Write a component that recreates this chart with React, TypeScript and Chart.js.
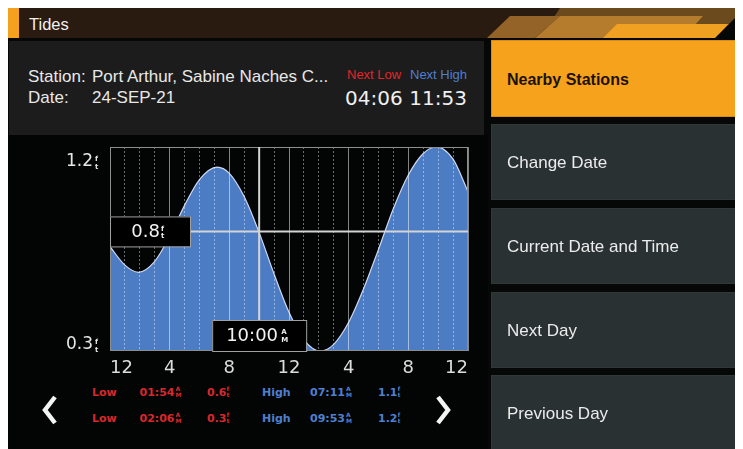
import React, { useEffect, useRef } from 'react';
import { Chart, registerables } from 'chart.js';

Chart.register(...registerables);

// ---- chart data ----
const tideHours = [0, 1, 1.9, 3, 4, 5, 6, 7.18, 8, 9, 10, 11, 12, 13, 14.1, 15, 16, 17, 18, 19, 20, 21, 21.88, 23, 24];
const tideLevels = [0.736, 0.659, 0.629, 0.675, 0.779, 0.909, 1.017, 1.069, 1.043, 0.945, 0.795, 0.622, 0.462, 0.347, 0.3, 0.328, 0.42, 0.56, 0.725, 0.896, 1.036, 1.126, 1.153, 1.102, 0.966];
const xTickLabels = ['12', '4', '8', '12', '4', '8', '12'];
const yTickLabels = ['1.2', '0.3'];
const yMin = 0.3;
const yMax = 1.153;
const cursorHour = 10;
const cursorLevel = 0.8;
const cursorTimeLabel = '10:00';
const cursorLevelLabel = '0.8';

// ---- table / UI text ----
const lowTimes = ['01:54', '02:06'];
const lowLevels = ['0.6', '0.3'];
const highTimes = ['07:11', '09:53'];
const highLevels = ['1.1', '1.2'];
const menuItems = ['Nearby Stations', 'Change Date', 'Current Date and Time', 'Next Day', 'Previous Day'];
const stationName = 'Port Arthur, Sabine Naches C...';
const dateText = '24-SEP-21';
const nextLowTime = '04:06';
const nextHighTime = '11:53';

const NUM = '"DejaVu Sans", sans-serif';
const UI = '"Liberation Sans", Arial, sans-serif';
const RED = '#e0262c';
const BLUE = '#4f7fcf';

function drawStack(ctx: CanvasRenderingContext2D, top: string, bottom: string, x: number, cy: number, size: number, clipW: number, color: string) {
  ctx.save();
  ctx.beginPath();
  ctx.rect(x, cy - size * 1.3, clipW, size * 2.6);
  ctx.clip();
  ctx.fillStyle = color;
  ctx.font = `bold ${size}px "DejaVu Sans"`;
  ctx.textAlign = 'left';
  ctx.textBaseline = 'middle';
  ctx.fillText(top, x, cy - size * 0.52);
  ctx.fillText(bottom, x, cy + size * 0.58);
  ctx.restore();
}

const overlayPlugin = {
  id: 'tideOverlay',
  afterDraw(chart: any) {
    const { ctx, chartArea: a, scales } = chart;
    const xs = scales.x;
    const ys = scales.y;
    ctx.save();
    // plot frame
    ctx.strokeStyle = '#8e8e8e';
    ctx.lineWidth = 1;
    ctx.strokeRect(a.left + 0.5, a.top + 0.5, a.right - a.left - 1, a.bottom - a.top - 1);

    // y labels
    ctx.fillStyle = '#e6e6e6';
    ctx.font = '17px "DejaVu Sans"';
    ctx.textAlign = 'right';
    ctx.textBaseline = 'middle';
    const yPos = [ys.getPixelForValue(ys.max) + 15, ys.getPixelForValue(ys.min) - 6];
    yTickLabels.forEach((t, i) => {
      ctx.fillStyle = '#e6e6e6';
      ctx.font = '17px "DejaVu Sans"';
      ctx.textAlign = 'right';
      ctx.textBaseline = 'middle';
      ctx.fillText(t, a.left - 17, yPos[i]);
      drawStack(ctx, 'f', 't', a.left - 15, yPos[i] + 1, 7, 6, '#e6e6e6');
    });

    // crosshair
    const cx = xs.getPixelForValue(cursorHour);
    const cy = ys.getPixelForValue(cursorLevel);
    ctx.strokeStyle = '#d4d4d4';
    ctx.lineWidth = 2;
    ctx.beginPath();
    ctx.moveTo(a.left, cy);
    ctx.lineTo(a.right, cy);
    ctx.stroke();
    ctx.beginPath();
    ctx.moveTo(cx, a.top);
    ctx.lineTo(cx, a.bottom);
    ctx.stroke();

    // level box
    ctx.fillStyle = '#000';
    ctx.fillRect(a.left, cy - 15, 80, 30);
    ctx.strokeStyle = '#a0a0a0';
    ctx.lineWidth = 1;
    ctx.strokeRect(a.left + 0.5, cy - 14.5, 80, 30);
    ctx.fillStyle = '#f2f2f2';
    ctx.font = '18px "DejaVu Sans"';
    ctx.textAlign = 'right';
    ctx.textBaseline = 'middle';
    ctx.fillText(cursorLevelLabel, a.left + 50, cy + 1);
    drawStack(ctx, 'f', 't', a.left + 51, cy + 1, 7, 4, '#f2f2f2');

    // time box
    const bl = cx - 47;
    const bt = a.bottom - 31;
    ctx.fillStyle = '#000';
    ctx.fillRect(bl, bt, 94, 31);
    ctx.strokeStyle = '#a0a0a0';
    ctx.strokeRect(bl + 0.5, bt + 0.5, 94, 31);
    ctx.fillStyle = '#f2f2f2';
    ctx.font = '18px "DejaVu Sans"';
    ctx.textAlign = 'left';
    ctx.textBaseline = 'middle';
    ctx.fillText(cursorTimeLabel, bl + 14, bt + 16);
    drawStack(ctx, 'A', 'M', bl + 69, bt + 16, 7, 10, '#f2f2f2');
    ctx.restore();
  },
};

function TideChart() {
  const ref = useRef<HTMLCanvasElement | null>(null);
  useEffect(() => {
    if (!ref.current) return;
    const chart = new Chart(ref.current, {
      type: 'line',
      data: {
        datasets: [
          {
            data: tideHours.map((h, i) => ({ x: h, y: tideLevels[i] })),
            fill: 'start',
            backgroundColor: '#4b7cc4',
            borderColor: '#cfd8f0',
            borderWidth: 1.2,
            pointRadius: 0,
            cubicInterpolationMode: 'monotone',
          },
        ],
      },
      options: {
        animation: false,
        responsive: false,
        maintainAspectRatio: false,
        events: [],
        layout: { padding: { left: 60, top: 9, right: 12, bottom: 0 } },
        plugins: { legend: { display: false }, tooltip: { enabled: false } },
        scales: {
          x: {
            type: 'linear',
            min: 0,
            max: 24,
            afterFit: (s: any) => {
              s.height = 34;
            },
            ticks: {
              stepSize: 1,
              maxTicksLimit: 25,
              autoSkip: false,
              maxRotation: 0,
              align: 'inner',
              padding: 7,
              color: '#dcdcdc',
              font: { family: 'DejaVu Sans', size: 18 },
              callback: (v: any) => (Number(v) % 4 === 0 ? xTickLabels[Number(v) / 4] : ''),
            },
            grid: {
              z: 1,
              drawTicks: false,
              lineWidth: 1,
              color: (c: any) =>
                c.tick && c.tick.value % 4 === 0 ? 'rgba(255,255,255,0.5)' : 'rgba(255,255,255,0.42)',
            },
            border: {
              display: false,
              dash: (c: any) => (c.tick && c.tick.value % 4 === 0 ? [] : [2, 2]),
            },
          },
          y: { display: false, min: yMin, max: yMax },
        },
      } as any,
      plugins: [overlayPlugin],
    });
    return () => chart.destroy();
  }, []);
  return (
    <canvas
      ref={ref}
      width={430}
      height={247}
      style={{ position: 'absolute', left: 42, top: 130, width: 430, height: 247 }}
    />
  );
}

type TxtProps = {
  x: number;
  y: number;
  size: number;
  color: string;
  family?: string;
  weight?: any;
  align?: 'left' | 'right';
  children: React.ReactNode;
};

function Txt({ x, y, size, color, family = UI, weight = 'normal', align = 'left', children }: TxtProps) {
  const lh = Math.round(size * 1.2);
  const style: React.CSSProperties = {
    position: 'absolute',
    top: y - 8 - lh / 2,
    fontSize: size,
    lineHeight: lh + 'px',
    color,
    fontFamily: family,
    fontWeight: weight,
    whiteSpace: 'nowrap',
  };
  if (align === 'right') style.right = 735 - (x - 8);
  else style.left = x - 8;
  return <div style={style}>{children}</div>;
}

function Stack({ x, y, top, bottom, size, clip, color }: { x: number; y: number; top: string; bottom: string; size: number; clip: number; color: string }) {
  return (
    <div
      style={{
        position: 'absolute',
        left: x - 8,
        top: y - 8 - size,
        width: clip,
        height: size * 2 + 1,
        overflow: 'hidden',
        fontFamily: NUM,
        fontWeight: 'bold',
        fontSize: size,
        lineHeight: size + 'px',
        color,
      }}
    >
      <div>{top}</div>
      <div>{bottom}</div>
    </div>
  );
}

const box = (x: number, y: number, w: number, h: number, bg: string): React.CSSProperties => ({
  position: 'absolute',
  left: x - 8,
  top: y - 8,
  width: w,
  height: h,
  background: bg,
});

const buttonTops = [40, 124, 208, 292, 375];
const buttonHeights = [77, 76, 76, 76, 80];
const rowY = [392, 418];

export default function App() {
  return (
    <div
      style={{
        position: 'relative',
        width: 735,
        height: 441,
        overflow: 'hidden',
        background: '#060808',
        fontFamily: UI,
      }}
    >
      {/* top bar */}
      <div style={box(8, 8, 735, 30, '#2a1b10')} />
      <svg
        style={{ position: 'absolute', left: 0, top: 0 }}
        width={735}
        height={30}
        viewBox="8 8 735 30"
      >
        <polygon points="560,8 743,8 743,38 540,38" fill="#6b4a1e" />
        <polygon points="560,16 703,16 683,38 535,38" fill="#b57c2d" />
        <polygon points="700,24 743,24 743,38 660,38" fill="#b57c2d" />
        <polygon points="510,16 560,16 535,38 487,38" fill="#946328" />
        <polygon points="617,24 728,24 717,38 603,38" fill="#f1a122" />
        <polygon points="743,10 743,38 715,38" fill="#060808" />
      </svg>
      <div style={box(8, 8, 11, 30, '#f5a01e')} />
      <Txt x={29} y={24} size={16.5} color="#f0f0f0">
        Tides
      </Txt>

      {/* info panel */}
      <div style={box(9, 41, 475, 94, '#1c1c1d')} />
      <Txt x={28} y={77} size={17} color="#e8e8e8">
        Station:
      </Txt>
      <Txt x={92} y={77} size={17} color="#e8e8e8">
        {stationName}
      </Txt>
      <Txt x={28} y={97.5} size={17} color="#e8e8e8">
        Date:
      </Txt>
      <Txt x={92} y={97.5} size={17} color="#e8e8e8">
        {dateText}
      </Txt>
      <Txt x={347} y={75} size={13} color={RED}>
        Next Low
      </Txt>
      <Txt x={410} y={75} size={13} color={BLUE}>
        Next High
      </Txt>
      <Txt x={345} y={97.5} size={20} color="#f0f0f0" family={NUM}>
        {nextLowTime}
      </Txt>
      <Txt x={467} y={97.5} size={20} color="#f0f0f0" family={NUM} align="right">
        {nextHighTime}
      </Txt>

      {/* chart panel */}
      <div style={box(8, 135, 480, 314, '#030505')} />
      <TideChart />

      {/* tide table */}
      {rowY.map((ry, i) => (
        <React.Fragment key={i}>
          <Txt x={92} y={ry} size={11} color="#d8282c" family={NUM} weight="bold">
            Low
          </Txt>
          <Txt x={139.5} y={ry} size={11} color="#d8282c" family={NUM} weight="bold">
            {lowTimes[i]}
          </Txt>
          <Stack x={175.5} y={ry} top="A" bottom="M" size={6} clip={6} color="#d8282c" />
          <Txt x={207} y={ry} size={11} color="#d8282c" family={NUM} weight="bold">
            {lowLevels[i]}
          </Txt>
          <Stack x={226.5} y={ry} top="f" bottom="t" size={6} clip={3} color="#d8282c" />
          <Txt x={262} y={ry} size={11} color={BLUE} family={NUM} weight="bold">
            High
          </Txt>
          <Txt x={310} y={ry} size={11} color={BLUE} family={NUM} weight="bold">
            {highTimes[i]}
          </Txt>
          <Stack x={346} y={ry} top="A" bottom="M" size={6} clip={6} color={BLUE} />
          <Txt x={378} y={ry} size={11} color={BLUE} family={NUM} weight="bold">
            {highLevels[i]}
          </Txt>
          <Stack x={397.5} y={ry} top="f" bottom="t" size={6} clip={3} color={BLUE} />
        </React.Fragment>
      ))}

      {/* arrows */}
      <svg style={{ position: 'absolute', left: 0, top: 0 }} width={735} height={441} viewBox="8 8 735 441">
        <polyline points="55,397 45,410 55,423" fill="none" stroke="#f4f4f4" strokeWidth={4.5} />
        <polyline points="438,397 448,410 438,423" fill="none" stroke="#f4f4f4" strokeWidth={4.5} />
      </svg>

      {/* right menu */}
      {menuItems.map((m, i) => (
        <React.Fragment key={m}>
          <div
            style={{
              ...box(491, buttonTops[i], 260, buttonHeights[i], i === 0 ? '#f6a21c' : '#2a3132'),
              boxSizing: 'border-box',
              border: i === 0 ? '1px solid #d98b12' : '1px solid #30383a',
            }}
          />
          <Txt
            x={507}
            y={buttonTops[i] + 39}
            size={i === 0 ? 16 : 17}
            weight={i === 0 ? 'bold' : 'normal'}
            color={i === 0 ? '#1a1208' : '#ececec'}
          >
            {m}
          </Txt>
        </React.Fragment>
      ))}
    </div>
  );
}
